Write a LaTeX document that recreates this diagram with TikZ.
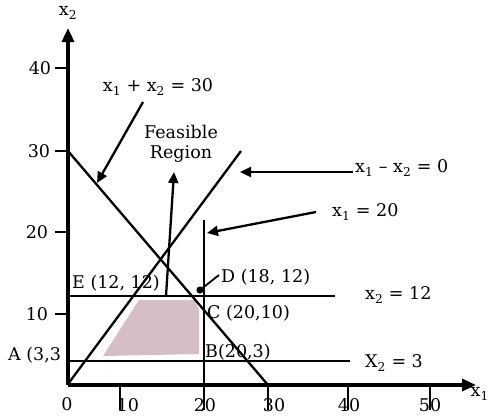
\documentclass[tikz,border=0pt]{standalone}
\usepackage{fontspec}
\setmainfont{DejaVu Serif}
\usetikzlibrary{arrows.meta}
\newcommand{\xv}[1]{x\textsubscript{#1}}
\begin{document}
\begin{tikzpicture}[x=1pt,y=-1pt,
  lbl/.style={font=\fontsize{17.5}{20}\selectfont, inner sep=0pt},
  axis/.style={line width=3.4pt},
  cline/.style={line width=2.3pt},
  tick/.style={line width=2pt},
  ann/.style={line width=2.3pt,-{Triangle[length=11pt,width=10pt]}},
  axarrow/.style={axis,-{Triangle[length=14pt,width=12pt]}},
]
\useasboundingbox (0,0) rectangle (489,416);
% feasible region shading
\fill[fill={rgb,255:red,214;green,190;blue,200}] (103,356) -- (139,300) -- (195,300) -- (199,310) -- (199,354) -- cycle;
% coordinates
\coordinate (O) at (68,385);
\coordinate (ytop) at (68,28);
\coordinate (xend) at (476,385);
\coordinate (s30a) at (68,151);
\coordinate (s30b) at (268,385);
\coordinate (d0a) at (68,384);
\coordinate (d0b) at (241,151);
\coordinate (v20a) at (204,220);
\coordinate (v20b) at (204,385);
\coordinate (h12a) at (68,296);
\coordinate (h12b) at (335,296);
\coordinate (h3a) at (68,361);
\coordinate (h3b) at (350,361);
\coordinate (Dpt) at (200,290);
% constraint lines
\draw[cline] (s30a) -- (s30b);
\draw[cline] (d0a) -- (d0b);
\draw[cline] (v20a) -- (v20b);
\draw[cline] (h12a) -- (h12b);
\draw[cline] (h3a) -- (h3b);
\fill (Dpt) circle (3.6pt);
% axes
\draw[axarrow] (O) -- (xend);
\draw[axarrow] (O) -- (ytop);
% y ticks
\foreach \yy/\lab/\lx in {68/40/40,151/30/39,232/20/37,314/10/37}{
  \draw[tick] (55,\yy) -- (68,\yy);
  \node[lbl] at (\lx,\yy) {\lab};
}
% x ticks
\foreach \xx/\lab/\lx in {120/10/128,204/20/205,268/30/274,348/40/349,430/50/430}{
  \draw[tick] (\xx,385) -- (\xx,410);
  \node[lbl] at (\lx,405) {\lab};
}
\node[lbl] (zero) at (67,404) {0};
\node[lbl] (x2lab) at (68,13) {\xv{2}};
\node[lbl,anchor=east] (x1lab) at (489,394) {\xv{1}};
% labels
\node[lbl] (L30) at (158,87) {\xv{1} + \xv{2} = 30};
\node[lbl,align=center] (FR) at (181,144) {Feasible\\Region};
\node[lbl,anchor=west] (L0) at (355,168) {\xv{1} -- \xv{2} = 0};
\node[lbl,anchor=west] (L20) at (332,212) {\xv{1} = 20};
\node[lbl,anchor=west] (LD) at (221,277) {D (18, 12)};
\node[lbl,anchor=west] (L12) at (365,295) {\xv{2} = 12};
\node[lbl,anchor=west] (LC) at (207,313) {C (20,10)};
\node[lbl,anchor=west] (LB) at (205,352) {B(20,3)};
\node[lbl,anchor=west] (L3) at (365,363) {X\textsubscript{2} = 3};
\node[lbl,anchor=west] (LE) at (72,283) {E (12, 12)};
\node[lbl,anchor=west] (LA) at (8,355) {A (3,3};
% annotation arrows
\coordinate (a30s) at (143,102); \coordinate (a30e) at (97,183);
\draw[ann] (a30s) -- (a30e);
\coordinate (frs) at (166,296); \coordinate (fre) at (174,172);
\draw[ann] (frs) -- (fre);
\coordinate (a0s) at (353,172); \coordinate (a0e) at (240,172);
\draw[ann] (a0s) -- (a0e);
\coordinate (a20s) at (316,212); \coordinate (a20e) at (207,233);
\draw[ann] (a20s) -- (a20e);
\coordinate (aDs) at (219,275);
\draw[line width=1.8pt] (aDs) -- (Dpt);
\end{tikzpicture}
\end{document}
